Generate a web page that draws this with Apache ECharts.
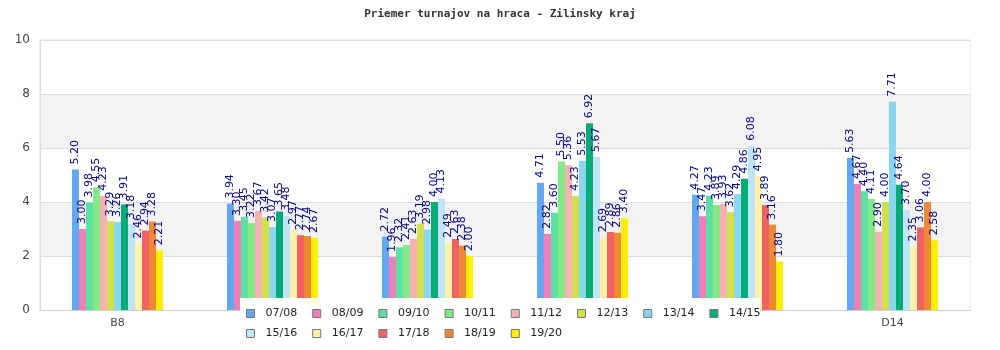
<!DOCTYPE html>
<html>
<head>
<meta charset="utf-8">
<script src="https://cdn.jsdelivr.net/npm/echarts@6/dist/echarts.min.js"></script>
<style>html,body{margin:0;padding:0;background:#fff}#c{width:1000px;height:350px}</style>
</head>
<body>
<div id="c"></div>
<script>
const categories = ['B8', 'C9', 'C10', 'C11', 'D13', 'D14'];
const seasons = ['07/08','08/09','09/10','10/11','11/12','12/13','13/14','14/15','15/16','16/17','17/18','18/19','19/20'];
const colors = ['#62a8f0','#f07fb9','#5ee0a2','#84e884','#f4b2b2','#d2e04c','#88d6f0','#06ac76','#bfe3f7','#fff2a8','#f06262','#ee8834','#ffee00'];
const s0708 = [5.20, 3.94, 2.72, 4.71, 4.27, 5.63];
const s0809 = [3.00, 3.30, 1.96, 2.82, 3.47, 4.67];
const s0910 = [3.98, 3.45, 2.32, 3.60, 4.23, 4.40];
const s1011 = [4.55, 3.22, 2.41, 5.50, 3.89, 4.11];
const s1112 = [4.23, 3.67, 2.63, 5.36, 3.93, 2.90];
const s1213 = [3.29, 3.42, 3.19, 4.23, 3.62, 4.00];
const s1314 = [3.26, 3.07, 2.98, 5.53, 4.29, 7.71];
const s1415 = [3.91, 3.65, 4.00, 6.92, 4.86, 4.64];
const s1516 = [3.18, 3.48, 4.13, 5.67, 6.08, 3.70];
const s1617 = [2.46, 2.97, 2.49, 2.69, 4.95, 2.35];
const s1718 = [2.94, 2.77, 2.63, 2.89, 3.89, 3.06];
const s1819 = [3.28, 2.74, 2.38, 2.86, 3.16, 4.00];
const s1920 = [2.21, 2.67, 2.00, 3.40, 1.80, 2.58];
const seriesValues = [s0708,s0809,s0910,s1011,s1112,s1213,s1314,s1415,s1516,s1617,s1718,s1819,s1920];
const yTicks = [0, 2, 4, 6, 8, 10];

const chart = echarts.init(document.getElementById('c'));
const legendCommon = {
  left: 246, orient: 'horizontal', icon: 'rect', itemWidth: 8, itemHeight: 8,
  itemGap: 15, padding: 0, z: 20,
  itemStyle: { borderColor: '#777', borderWidth: 1 },
  textStyle: { fontFamily: 'DejaVu Sans', fontSize: 11, color: '#222', padding: [0, 0, 0, 6] }
};
chart.setOption({
  animation: false,
  color: colors,
  title: {
    text: 'Priemer turnajov na hraca - Zilinsky kraj', left: 'center', top: 4,
    textStyle: { fontFamily: 'DejaVu Sans Mono', fontWeight: 'bold', fontSize: 11, color: '#333' }
  },
  legend: [
    Object.assign({}, legendCommon, { top: 308, data: seasons.slice(0, 8) }),
    Object.assign({}, legendCommon, { top: 328, data: seasons.slice(8) })
  ],
  graphic: [{ type: 'rect', z: 10, shape: { x: 240, y: 298, width: 520, height: 52 }, style: { fill: '#fff' } }],
  grid: { left: 40, right: 30, top: 40, bottom: 40, show: true, borderColor: '#ddd', borderWidth: 1 },
  xAxis: {
    type: 'category', data: categories,
    axisLine: { lineStyle: { color: '#ccc' } }, axisTick: { show: false },
    axisLabel: { color: '#444', fontSize: 11, fontFamily: 'DejaVu Sans', margin: 8 }
  },
  yAxis: {
    type: 'value', min: yTicks[0], max: yTicks[yTicks.length - 1], interval: 2,
    axisLine: { show: true, lineStyle: { color: '#ddd' } }, axisTick: { show: false },
    axisLabel: { color: '#444', fontSize: 12, fontFamily: 'DejaVu Sans', margin: 10 },
    splitLine: { lineStyle: { color: '#ddd' } },
    splitArea: { show: true, areaStyle: { color: ['#ffffff', '#f3f3f3'] } }
  },
  series: seasons.map((name, i) => ({
    name, type: 'bar', data: seriesValues[i], barWidth: 7, barGap: '0%',
    itemStyle: { color: colors[i] },
    label: {
      show: true, position: 'top', rotate: 90, align: 'left', verticalAlign: 'middle', distance: 5,
      color: '#000080', fontSize: 11, fontFamily: 'DejaVu Sans',
      formatter: p => p.value.toFixed(2)
    }
  }))
});
</script>
</body>
</html>
